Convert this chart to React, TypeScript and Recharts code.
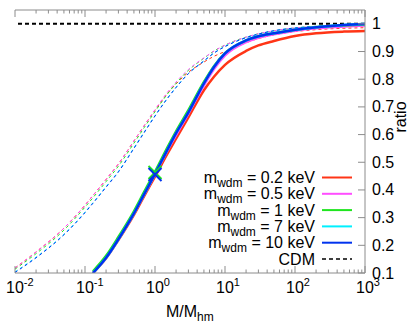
import React from 'react';
import { ComposedChart, Line, XAxis, YAxis, ReferenceLine, ReferenceDot } from 'recharts';

// M / M_hm sample points
const massRatio = [0.01, 0.02, 0.05, 0.1, 0.13, 0.2, 0.3, 0.5, 0.7, 1, 1.5, 2, 3, 5, 7, 10, 20, 30, 50, 100, 200, 500, 1000];

// solid curves (ratio)
const solid02 = [null, null, null, null, 0.1, 0.153, 0.219, 0.31, 0.378, 0.448, 0.53, 0.585, 0.662, 0.76, 0.81, 0.852, 0.902, 0.922, 0.938, 0.956, 0.966, 0.972, 0.974];
const solid05 = [null, null, null, null, 0.1, 0.155, 0.222, 0.315, 0.384, 0.456, 0.542, 0.598, 0.676, 0.778, 0.838, 0.886, 0.934, 0.95, 0.962, 0.975, 0.984, 0.99, 0.994];
const solid1 = [null, null, null, null, 0.106, 0.162, 0.23, 0.323, 0.393, 0.466, 0.553, 0.612, 0.688, 0.79, 0.848, 0.894, 0.94, 0.955, 0.966, 0.979, 0.988, 0.995, 0.998];
const solid7 = [null, null, null, null, 0.1, 0.155, 0.222, 0.315, 0.385, 0.458, 0.545, 0.605, 0.68, 0.785, 0.845, 0.893, 0.94, 0.955, 0.966, 0.979, 0.988, 0.996, 0.999];
const solid10 = [null, null, null, null, 0.1, 0.155, 0.222, 0.315, 0.385, 0.458, 0.545, 0.605, 0.68, 0.785, 0.845, 0.893, 0.94, 0.955, 0.966, 0.979, 0.988, 0.996, 0.999];

// dashed curves (ratio)
const dash02 = [0.118, 0.176, 0.262, 0.345, 0.38, 0.438, 0.494, 0.577, 0.632, 0.688, 0.748, 0.783, 0.825, 0.862, 0.883, 0.9, 0.932, 0.947, 0.96, 0.972, 0.979, 0.984, 0.986];
const dash05 = [0.118, 0.176, 0.262, 0.345, 0.38, 0.438, 0.494, 0.577, 0.632, 0.69, 0.752, 0.79, 0.835, 0.877, 0.902, 0.923, 0.952, 0.964, 0.975, 0.985, 0.99, 0.995, 0.997];
const dash1 = [0.114, 0.17, 0.255, 0.338, 0.372, 0.43, 0.486, 0.569, 0.625, 0.683, 0.746, 0.785, 0.832, 0.876, 0.902, 0.923, 0.952, 0.964, 0.975, 0.985, 0.991, 0.995, 0.997];
const dash7 = [0.104, 0.157, 0.24, 0.32, 0.354, 0.412, 0.467, 0.552, 0.609, 0.668, 0.731, 0.771, 0.821, 0.866, 0.895, 0.918, 0.95, 0.963, 0.975, 0.985, 0.991, 0.995, 0.997];
const dash10 = [0.102, 0.155, 0.238, 0.318, 0.352, 0.41, 0.465, 0.55, 0.607, 0.667, 0.73, 0.77, 0.82, 0.866, 0.895, 0.918, 0.95, 0.963, 0.975, 0.985, 0.991, 0.995, 0.997];

// half-mode markers
const markerX = [1, 1];
const markerY = [0.463, 0.456];
const markerColors = ['#1fe51f', '#0033ee'];

const cdmRatio = 1;

const xMajor = [0.01, 0.1, 1, 10, 100, 1000];
const xExp = ['-2', '-1', '0', '1', '2', '3'];
const xMinorSteps = [2, 3, 4, 5, 6, 7, 8, 9];
const yTicks = [0.1, 0.2, 0.3, 0.4, 0.5, 0.6, 0.7, 0.8, 0.9, 1];
const yTickLabels = ['0.1', '0.2', '0.3', '0.4', '0.5', '0.6', '0.7', '0.8', '0.9', '1'];

const legendLabels = ['0.2', '0.5', '1', '7', '10'];
const colors = ['#ff3516', '#ff4dff', '#1fe51f', '#00f0ff', '#0033ee'];

const FONT = '"Liberation Sans", Arial, Helvetica, sans-serif';
const FRAME = '#8c8c8c';

const xTicks = [
  ...xMajor,
  ...xMajor.slice(0, -1).flatMap((d) => xMinorSteps.map((s) => +(d * s).toPrecision(6))),
];

const data = massRatio.map((m, i) => ({
  m,
  s02: solid02[i], s05: solid05[i], s1: solid1[i], s7: solid7[i], s10: solid10[i],
  d02: dash02[i], d05: dash05[i], d1: dash1[i], d7: dash7[i], d10: dash10[i],
}));

const majorIndex = (v: number) => xMajor.findIndex((d) => Math.abs(d - v) / d < 1e-6);

const BottomTick = ({ x, y, payload }: any) => {
  const k = majorIndex(payload.value);
  return (
    <g>
      <line x1={x} x2={x} y1={y} y2={y - (k >= 0 ? 7 : 3.5)} stroke={FRAME} />
      {k >= 0 && (
        <text x={x - 9} y={y + 20} fontSize={16} fontFamily={FONT} fill="#000">
          10<tspan dy={-7} fontSize={11}>{xExp[k]}</tspan>
        </text>
      )}
    </g>
  );
};

const TopTick = ({ x, y, payload }: any) => {
  const k = majorIndex(payload.value);
  return <line x1={x} x2={x} y1={y} y2={y + (k >= 0 ? 7 : 3.5)} stroke={FRAME} />;
};

const RightTick = ({ x, y, index }: any) => (
  <g>
    <line x1={x} x2={x - 7} y1={y} y2={y} stroke={FRAME} />
    <text x={x + 7} y={y + 5.5} fontSize={16} fontFamily={FONT} fill="#000">
      {yTickLabels[index]}
    </text>
  </g>
);

const LeftTick = ({ x, y }: any) => <line x1={x} x2={x + 7} y1={y} y2={y} stroke={FRAME} />;

const CrossMark = (color: string) => ({ cx, cy }: any) => (
  <g stroke={color} strokeWidth={2}>
    <line x1={cx - 6.5} y1={cy - 6.5} x2={cx + 6.5} y2={cy + 6.5} />
    <line x1={cx - 6.5} y1={cy + 6.5} x2={cx + 6.5} y2={cy - 6.5} />
  </g>
);

export default function App() {
  const solidKeys = ['s02', 's05', 's1', 's7', 's10'];
  const dashKeys = ['d02', 'd05', 'd1', 'd7', 'd10'];
  const rowY = (i: number) => 177.5 + 16.3 * i;
  return (
    <div style={{ position: 'absolute', left: 0, top: 0, width: 410, height: 324, background: '#fff' }}>
      <ComposedChart width={410} height={324} data={data} margin={{ top: 9, right: 0, bottom: 0, left: 15 }}>
        <XAxis
          xAxisId="b"
          dataKey="m"
          type="number"
          scale="log"
          domain={[0.01, 1000]}
          allowDataOverflow
          ticks={xTicks}
          interval={0}
          tickSize={0}
          tickMargin={0}
          tick={<BottomTick />}
          axisLine={{ stroke: FRAME }}
          height={51}
        />
        <XAxis
          xAxisId="t"
          orientation="top"
          dataKey="m"
          type="number"
          scale="log"
          domain={[0.01, 1000]}
          allowDataOverflow
          ticks={xTicks}
          interval={0}
          tickSize={0}
          tickMargin={0}
          tick={<TopTick />}
          axisLine={{ stroke: FRAME }}
          height={1}
        />
        <YAxis
          yAxisId="r"
          orientation="right"
          type="number"
          domain={[0.1, 1.05]}
          allowDataOverflow
          ticks={yTicks}
          interval={0}
          tickSize={0}
          tickMargin={0}
          tick={<RightTick />}
          axisLine={{ stroke: FRAME }}
          width={45}
        />
        <YAxis
          yAxisId="l"
          orientation="left"
          type="number"
          domain={[0.1, 1.05]}
          allowDataOverflow
          ticks={yTicks}
          interval={0}
          tickSize={0}
          tickMargin={0}
          tick={<LeftTick />}
          axisLine={{ stroke: FRAME }}
          width={0}
        />
        <ReferenceLine xAxisId="b" yAxisId="r" y={cdmRatio} stroke="#000" strokeWidth={2} strokeDasharray="4 3" />
        {[0, 2, 1, 3, 4].map((i) => (
          <Line
            key={dashKeys[i]}
            xAxisId="b"
            yAxisId="r"
            dataKey={dashKeys[i]}
            stroke={colors[i]}
            strokeWidth={1}
            strokeDasharray="3 3"
            dot={false}
            isAnimationActive={false}
            type="monotone"
          />
        ))}
        {solidKeys.map((k, i) => (
          <Line
            key={k}
            xAxisId="b"
            yAxisId="r"
            dataKey={k}
            stroke={colors[i]}
            strokeWidth={2.5}
            dot={false}
            isAnimationActive={false}
            type="monotone"
          />
        ))}
        {markerX.map((mx, i) => (
          <ReferenceDot
            key={i}
            xAxisId="b"
            yAxisId="r"
            x={mx}
            y={markerY[i]}
            shape={CrossMark(markerColors[i])}
          />
        ))}
      </ComposedChart>
      <svg width={410} height={324} style={{ position: 'absolute', left: 0, top: 0, pointerEvents: 'none' }} fontFamily={FONT}>
        {legendLabels.map((lab, i) => (
          <g key={lab}>
            <text x={315} y={rowY(i) + 5.5} fontSize={16} textAnchor="end" fill="#000">
              m<tspan fontSize={12} dy={4}>wdm</tspan>
              <tspan dy={-4}>{` = ${lab} keV`}</tspan>
            </text>
            <line x1={322} x2={352} y1={rowY(i)} y2={rowY(i)} stroke={colors[i]} strokeWidth={2} />
          </g>
        ))}
        <text x={315} y={rowY(5) + 5.5} fontSize={16} textAnchor="end" fill="#000">CDM</text>
        <line x1={322} x2={352} y1={rowY(5)} y2={rowY(5)} stroke="#000" strokeWidth={1.5} strokeDasharray="4 3" />
        <text x={166} y={317} fontSize={16} fill="#000">
          M/M<tspan fontSize={12} dy={4}>hm</tspan>
        </text>
        <text transform="translate(406,117) rotate(-90)" fontSize={16} textAnchor="middle" fill="#000">ratio</text>
      </svg>
    </div>
  );
}
